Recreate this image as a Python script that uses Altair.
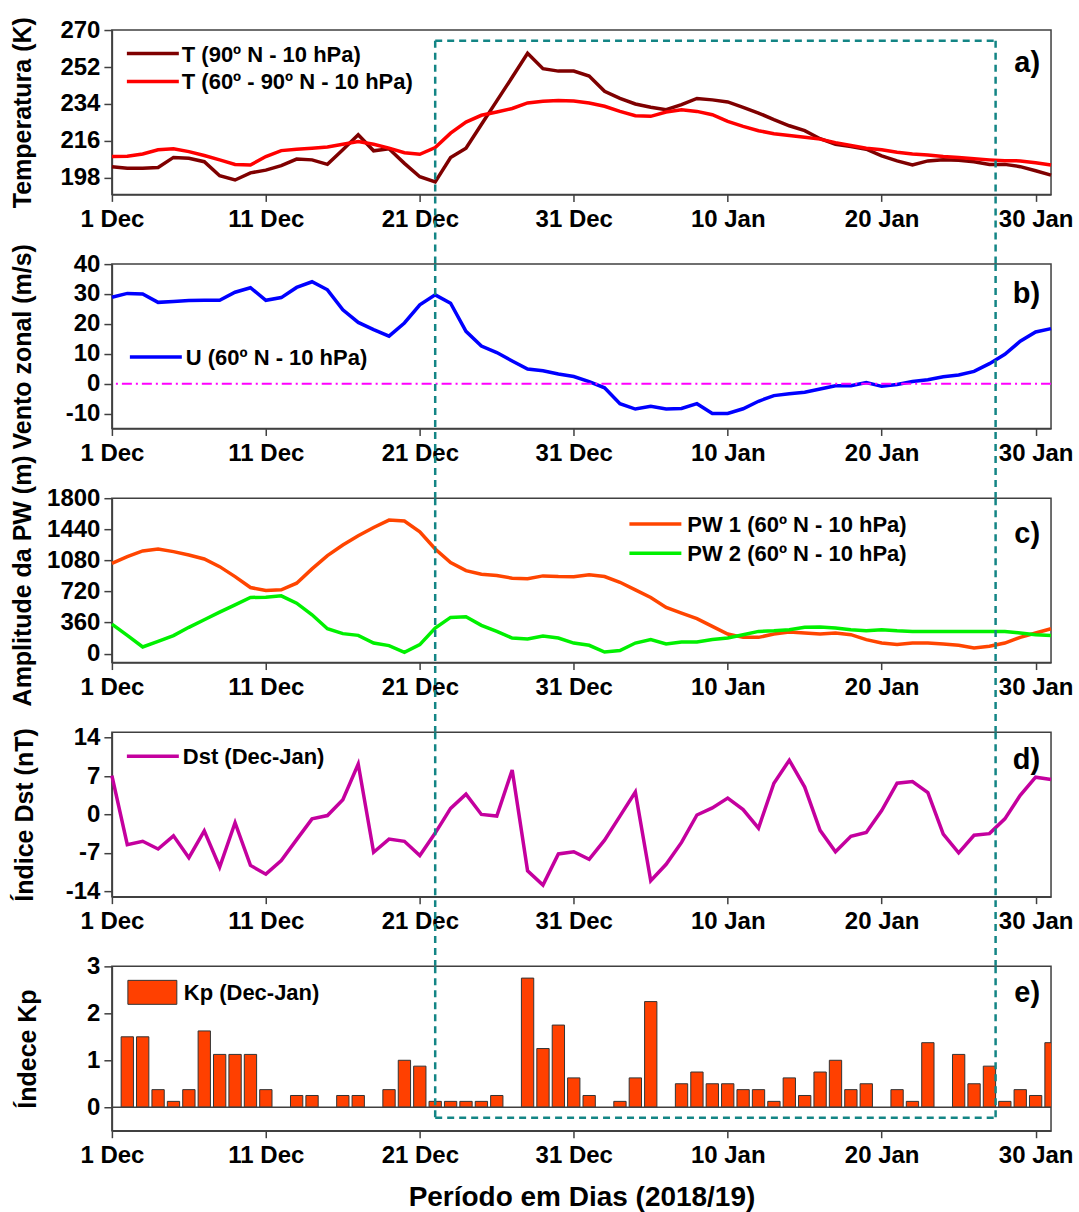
import altair as alt
import pandas as pd

# ---- data (daily values, 1 Dec 2018 = day 0 ... 31 Jan 2019 = day 61) ----
days = list(range(62))
tick_days = [0, 10, 20, 30, 40, 50, 60]
tick_labels = ["1 Dec", "11 Dec", "21 Dec", "31 Dec", "10 Jan", "20 Jan", "30 Jan"]

t90 = [203.5, 202.7, 202.7, 203.1, 208.0, 207.6, 205.9, 199.1, 197.0, 200.5,
       201.8, 204.0, 207.2, 206.8, 204.6, 211.7, 219.0, 211.2, 212.2, 205.1,
       198.6, 196.1, 207.9, 212.5, 224.0, 235.5, 247.0, 258.7, 251.2, 250.0,
       250.0, 247.6, 240.2, 236.7, 234.0, 232.4, 231.2, 233.7, 236.7, 236.0,
       235.0, 232.4, 229.6, 226.4, 223.4, 221.0, 217.1, 214.4, 213.3, 212.0,
       208.7, 206.3, 204.3, 206.3, 206.8, 206.6, 205.9, 204.6, 204.6, 203.5,
       201.5, 199.4]
t6090 = [208.4, 208.6, 209.7, 211.7, 212.2, 210.8, 208.9, 206.8, 204.6, 204.3,
         208.4, 211.3, 212.0, 212.5, 213.1, 214.4, 215.7, 214.4, 212.5, 210.3,
         209.5, 212.8, 219.8, 225.2, 228.5, 230.1, 231.8, 234.5, 235.3, 235.7,
         235.5, 234.5, 232.9, 230.4, 228.3, 228.0, 230.1, 231.2, 230.4, 228.8,
         225.5, 223.1, 221.0, 219.5, 218.7, 217.8, 216.9, 215.2, 213.8, 212.5,
         211.7, 210.5, 209.7, 209.2, 208.4, 207.9, 207.3, 206.8, 206.4, 206.3,
         205.4, 204.3]
u60 = [28.9, 30.2, 30.0, 27.2, 27.5, 27.8, 27.9, 27.9, 30.6, 32.1,
       27.9, 28.8, 32.2, 34.1, 31.4, 24.7, 20.5, 18.1, 15.9, 20.3,
       26.4, 29.7, 26.9, 17.5, 12.6, 10.4, 7.6, 4.9, 4.3, 3.2,
       2.4, 0.7, -1.4, -6.7, -8.5, -7.6, -8.5, -8.3, -6.7, -10.0,
       -10.0, -8.4, -5.9, -4.0, -3.4, -2.9, -1.8, -0.7, -0.7, 0.4,
       -0.9, -0.3, 0.7, 1.3, 2.3, 2.9, 4.1, 6.7, 9.8, 14.2,
       17.3, 18.4]
pw1 = [1045, 1123, 1189, 1212, 1181, 1142, 1096, 1007, 892, 765,
       730, 738, 815, 981, 1134, 1258, 1365, 1461, 1546, 1535,
       1411, 1212, 1054, 961, 919, 904, 873, 866, 900, 892,
       889, 912, 892, 826, 738, 650, 534, 469, 404, 315,
       226, 188, 188, 226, 249, 238, 226, 238, 219, 162,
       122, 104, 122, 122, 111, 96, 65, 84, 122, 188,
       238, 288]
pw2 = [342, 211, 77, 142, 208, 304, 392, 480, 565, 650,
       653, 669, 584, 450, 288, 231, 211, 122, 92, 15,
       104, 295, 419, 427, 327, 257, 180, 168, 203, 180,
       122, 96, 18, 35, 122, 162, 111, 134, 134, 162,
       180, 219, 257, 265, 277, 304, 307, 295, 277, 265,
       277, 265, 257, 257, 257, 257, 257, 257, 257, 238,
       219, 208]
dst = [7.1, -5.5, -4.9, -6.3, -3.9, -7.9, -3.0, -9.6, -1.5, -9.3,
       -10.9, -8.4, -4.6, -0.8, -0.2, 2.7, 9.2, -6.9, -4.5, -4.9,
       -7.5, -3.4, 1.1, 3.7, 0.0, -0.3, 8.1, -10.3, -12.9, -7.2,
       -6.8, -8.2, -4.7, -0.3, 4.1, -12.1, -9.1, -5.1, -0.1, 1.2,
       3.0, 0.9, -2.5, 5.7, 9.9, 5.0, -2.9, -6.8, -4.0, -3.3,
       0.7, 5.7, 6.0, 4.0, -3.6, -7.0, -3.8, -3.5, -0.8, 3.5,
       6.8, 6.4]
kp = [0, 1.5, 1.5, 0.375, 0.125, 0.375, 1.625, 1.125, 1.125, 1.125,
      0.375, 0, 0.25, 0.25, 0, 0.25, 0.25, 0, 0.375, 1.0,
      0.875, 0.125, 0.125, 0.125, 0.125, 0.25, 0, 2.75, 1.25, 1.75,
      0.625, 0.25, 0, 0.125, 0.625, 2.25, 0, 0.5, 0.75, 0.5,
      0.5, 0.375, 0.375, 0.125, 0.625, 0.25, 0.75, 1.0, 0.375, 0.5,
      0, 0.375, 0.125, 1.375, 0, 1.125, 0.5, 0.875, 0.125, 0.375,
      0.25, 1.375]

# highlighted interval (22 Dec -> 28 Jan)
box_days = [21, 57.4]

t_names = ["T (90º N - 10 hPa)", "T (60º - 90º N - 10 hPa)"]
u_name = "U (60º N - 10 hPa)"
pw_names = ["PW 1 (60º N - 10 hPa)", "PW 2 (60º N - 10 hPa)"]
dst_name = "Dst (Dec-Jan)"
kp_name = "Kp (Dec-Jan)"

# ---- styling ----
FONT = "Liberation Sans"
W = 940
H = 164.5
GAP = 69.3
BOX = "#138585"
FRAME = "#404040"
C_T90, C_T6090 = "#7F0000", "#FF0000"
C_U = "#0000FF"
C_PW1, C_PW2 = "#FF4500", "#00F000"
C_DST = "#C4009E"
C_KP = "#FF4000"

label_expr = "[" + ",".join(f"'{t}'" for t in tick_labels) + "][round(datum.value / 10)]"
x_scale = alt.Scale(domain=[0, 61], nice=False, zero=False)


def xenc(field="day", last=False):
    kw = dict(values=tick_days, labelExpr=label_expr, labelFlush=False)
    if last:
        return alt.X(f"{field}:Q", scale=x_scale, axis=alt.Axis(**kw),
                     title="Período em Dias (2018/19)")
    return alt.X(f"{field}:Q", scale=x_scale, axis=alt.Axis(**kw), title=None)


def yenc(domain, ticks, title, title_x):
    return alt.Y("value:Q", scale=alt.Scale(domain=domain, nice=False, zero=False),
                 axis=alt.Axis(values=ticks, title=title, titleX=title_x,
                               titleBaseline="alphabetic", labelOverlap=False,
                               labelFlush=False, labelExpr="'' + datum.value"))


def series_line(values, color, y):
    df = pd.DataFrame({"day": days, "value": values})
    return alt.Chart(df).mark_line(strokeWidth=3.5, color=color).encode(x=xenc(), y=y)


def legend_entry(name, color, x0, y0, tx):
    """Key line plus its label, placed inside the panel."""
    key = alt.Chart(pd.DataFrame({"t": [name]})).mark_rule(strokeWidth=3.5, color=color).encode(
        x=alt.value(x0), x2=alt.value(x0 + 52), y=alt.value(y0))
    lab = alt.Chart(pd.DataFrame({"t": [name]})).mark_text(
        font=FONT, fontSize=22, fontWeight="bold", align="left", baseline="middle",
        color="black").encode(text="t:N", x=alt.value(tx), y=alt.value(y0 + 1))
    return [key, lab]


def box_layers(top, bottom, with_top=False, with_bottom=False):
    vdf = pd.DataFrame({"day": box_days})
    hdf = pd.DataFrame({"day": [box_days[0]], "day_end": [box_days[1]]})
    layers = [
        alt.Chart(vdf).mark_rule(color=BOX, strokeWidth=2.5, strokeDash=[7, 5]).encode(
            x=alt.X("day:Q", scale=x_scale), y=alt.value(top), y2=alt.value(bottom))
    ]
    if with_top:
        layers.append(alt.Chart(hdf).mark_rule(color=BOX, strokeWidth=2.5, strokeDash=[7, 5]).encode(
            x=alt.X("day:Q", scale=x_scale), x2="day_end:Q", y=alt.value(top)))
    if with_bottom:
        layers.append(alt.Chart(hdf).mark_rule(color=BOX, strokeWidth=2.5, strokeDash=[7, 5]).encode(
            x=alt.X("day:Q", scale=x_scale), x2="day_end:Q", y=alt.value(bottom)))
    return layers


def panel_letter(txt, y):
    return alt.Chart(pd.DataFrame({"t": [txt]})).mark_text(
        font=FONT, fontSize=29, fontWeight="bold", align="right",
        baseline="alphabetic", color="black").encode(
        text="t:N", x=alt.value(929), y=alt.value(y))


# ---- a) temperature ----
ya = yenc([190, 270], [198, 216, 234, 252, 270], "Temperatura (K)", -81)
panel_a = alt.layer(
    series_line(t90, C_T90, ya),
    series_line(t6090, C_T6090, ya),
    *legend_entry(t_names[0], C_T90, 15, 23.5, 70),
    *legend_entry(t_names[1], C_T6090, 15, 51.5, 70),
    *box_layers(10.7, H + GAP, with_top=True),
    panel_letter("a)", 42),
).properties(width=W, height=H)

# ---- b) zonal wind ----
yb = yenc([-15, 40], [-10, 0, 10, 20, 30, 40], "Vento zonal (m/s)", -81)
pb_zero = alt.Chart(pd.DataFrame({"value": [0]})).mark_rule(
    color="#FF00FF", strokeWidth=2, strokeDash=[10, 4, 2, 4]).encode(y=yb)
panel_b = alt.layer(
    series_line(u60, C_U, yb),
    pb_zero,
    *legend_entry(u_name, C_U, 18, 93, 74),
    *box_layers(0, H + GAP),
    panel_letter("b)", 39),
).properties(width=W, height=H)

# ---- c) planetary wave amplitude ----
yc = yenc([-104, 1800], [0, 360, 720, 1080, 1440, 1800], "Amplitude da PW (m)", -81)
panel_c = alt.layer(
    series_line(pw1, C_PW1, yc),
    series_line(pw2, C_PW2, yc),
    *legend_entry(pw_names[0], C_PW1, 518, 25.8, 576),
    *legend_entry(pw_names[1], C_PW2, 518, 55, 576),
    *box_layers(0, H + GAP),
    panel_letter("c)", 45),
).properties(width=W, height=H)

# ---- d) Dst index ----
yd = yenc([-15, 15], [-14, -7, 0, 7, 14], "Índice Dst (nT)", -79)
panel_d = alt.layer(
    series_line(dst, C_DST, yd),
    *legend_entry(dst_name, C_DST, 15, 24, 71),
    *box_layers(0, H + GAP),
    panel_letter("d)", 37),
).properties(width=W, height=H)

# ---- e) Kp index ----
ye = yenc([-0.5, 3], [0, 1, 2, 3], "Índece Kp", -76)
df_kp = pd.DataFrame({"day": days, "value": kp})
pe_bars = alt.Chart(df_kp).transform_filter("datum.value > 0").transform_calculate(
    lo="datum.day - 0.4", hi="datum.day + 0.4"
).mark_bar(clip=True, color=C_KP, stroke="#333333", strokeWidth=1).encode(
    x=xenc("lo", last=True),
    x2="hi:Q",
    y=ye,
    y2=alt.datum(0),
)
pe_base = alt.Chart(pd.DataFrame({"value": [0]})).mark_rule(
    color=FRAME, strokeWidth=1.5).encode(y=ye)
pe_key = alt.Chart(pd.DataFrame({"t": [kp_name]})).mark_rect(
    color=C_KP, stroke="#333333", strokeWidth=1).encode(
    x=alt.value(16), x2=alt.value(65), y=alt.value(14), y2=alt.value(38))
pe_lab = alt.Chart(pd.DataFrame({"t": [kp_name]})).mark_text(
    font=FONT, fontSize=22, fontWeight="bold", align="left", baseline="middle",
    color="black").encode(text="t:N", x=alt.value(72), y=alt.value(27))
panel_e = alt.layer(
    pe_bars, pe_base, pe_key, pe_lab,
    *box_layers(0, 151.4, with_bottom=True),
    panel_letter("e)", 36),
).properties(width=W, height=H)

chart = alt.vconcat(panel_a, panel_b, panel_c, panel_d, panel_e,
                    spacing=GAP, bounds="flush").properties(
    padding={"left": 10, "top": 14.5, "right": 5, "bottom": 2}
).configure_view(
    stroke=FRAME, strokeWidth=1.5
).configure_axis(
    grid=False, domainColor=FRAME, domainWidth=1.5, tickColor=FRAME, tickWidth=1.5,
    labelFont=FONT, labelFontWeight="bold", labelColor="black",
    titleFont=FONT, titleFontWeight="bold", titleColor="black",
).configure_axisX(
    tickSize=7, labelPadding=6, labelFontSize=24, titleFontSize=28, titlePadding=16,
).configure_axisY(
    tickSize=8, labelPadding=4, labelFontSize=24, titleFontSize=25, labelOverlap=False,
)

chart.save("out.html", embed_options={"renderer": "svg", "actions": False})
